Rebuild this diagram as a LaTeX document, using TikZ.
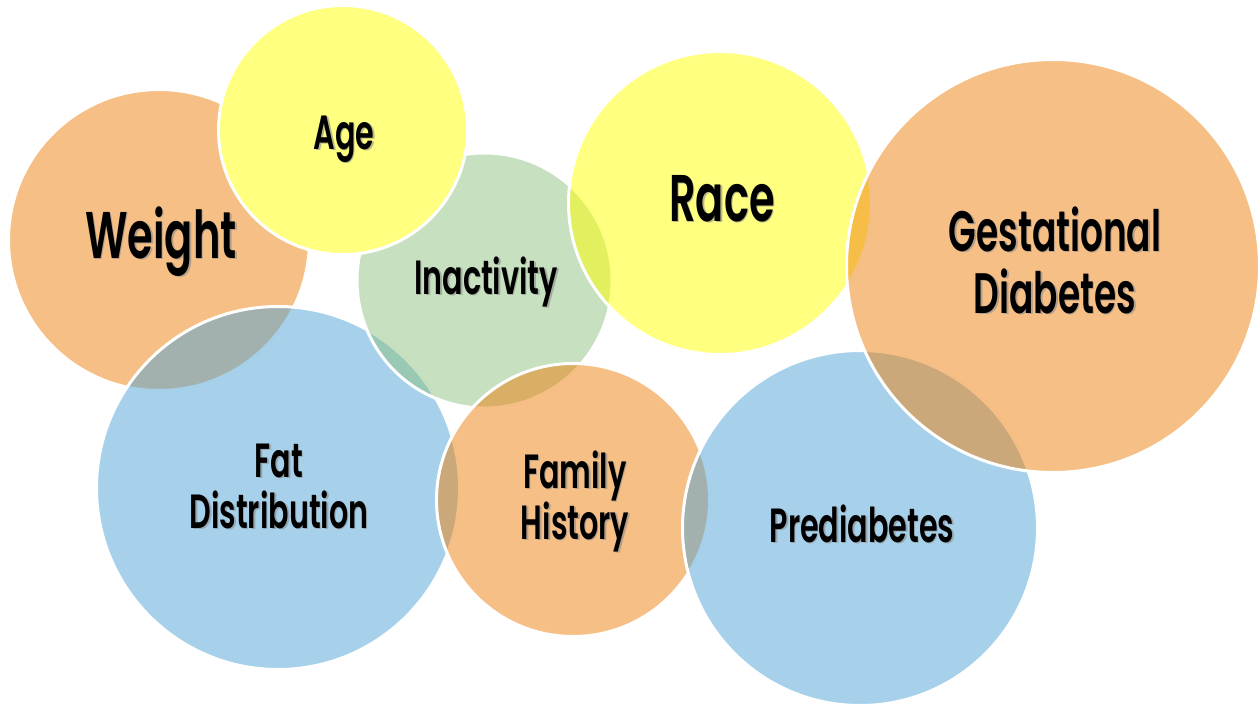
\documentclass[tikz,border=0pt]{standalone}
\usepackage{fontspec}
\IfFontExistsTF{Poppins SemiBold}
  {\setmainfont{Poppins SemiBold}[FakeStretch=0.63]}
  {\setmainfont{Poppins}[FakeStretch=0.63]}

% fill colours, mixed at half opacity over white
\definecolor{riskorange}{RGB}{237,127,13}
\definecolor{riskyellow}{RGB}{255,255,1}
\definecolor{riskgreen}{RGB}{141,193,129}
\definecolor{riskblue}{RGB}{79,163,213}
\definecolor{agefill}{RGB}{255,255,128}

\tikzset{
  bubble/.style={circle, inner sep=0pt, draw=white, line width=3pt,
    fill opacity=0.5, draw opacity=1},
  lbl/.style={font=\fontsize{48}{51}\selectfont, align=center, anchor=base},
  midlbl/.style={lbl, font=\fontsize{57}{62}\selectfont},
  biglbl/.style={lbl, font=\fontsize{66}{70}\selectfont}
}

\begin{document}
\begin{tikzpicture}[x=1pt,y=-1pt]
  \useasboundingbox (0,0) rectangle (1260,704);
  % Bubbles, back to front
  \node[bubble, fill=riskorange, minimum size=301pt] (weight) at (159,240) {};
  \node[bubble, fill=riskblue, minimum size=363pt] (fat) at (278,488) {};
  \node[bubble, fill=riskgreen, minimum size=255pt] (inactivity) at (484.5,280.5) {};
  \node[bubble, fill=agefill, fill opacity=1, minimum size=249pt] (age) at (343,130) {};
  \node[bubble, fill=riskyellow, minimum size=303pt] (race) at (720,203) {};
  \node[bubble, fill=riskorange, minimum size=273pt] (family) at (573,500) {};
  \node[bubble, fill=riskblue, minimum size=355pt] (prediabetes) at (860,528) {};
  \node[bubble, fill=riskorange, minimum size=413pt] (gestational) at (1053,266) {};

  % Labels with a soft drop shadow (base = last line)
  \foreach \name/\pos/\size/\txt in {
      weight/{161,258}/biglbl/Weight,
      age/{344,149}/lbl/Age,
      inactivity/{486,294}/lbl/Inactivity,
      race/{722,221}/biglbl/Race,
      gestational/{1055,313}/midlbl/{Gestational\\Diabetes},
      fat/{279,528}/lbl/{Fat\\Distribution},
      family/{575,539}/lbl/{Family\\History},
      prediabetes/{862,542}/lbl/Prediabetes} {
    \node[\size, text=black!45, text opacity=0.6] (\name-shadow) at ([shift={(1.5,1.5)}]\pos) {\txt};
    \node[\size] (\name-label) at (\pos) {\txt};
  }
\end{tikzpicture}
\end{document}
